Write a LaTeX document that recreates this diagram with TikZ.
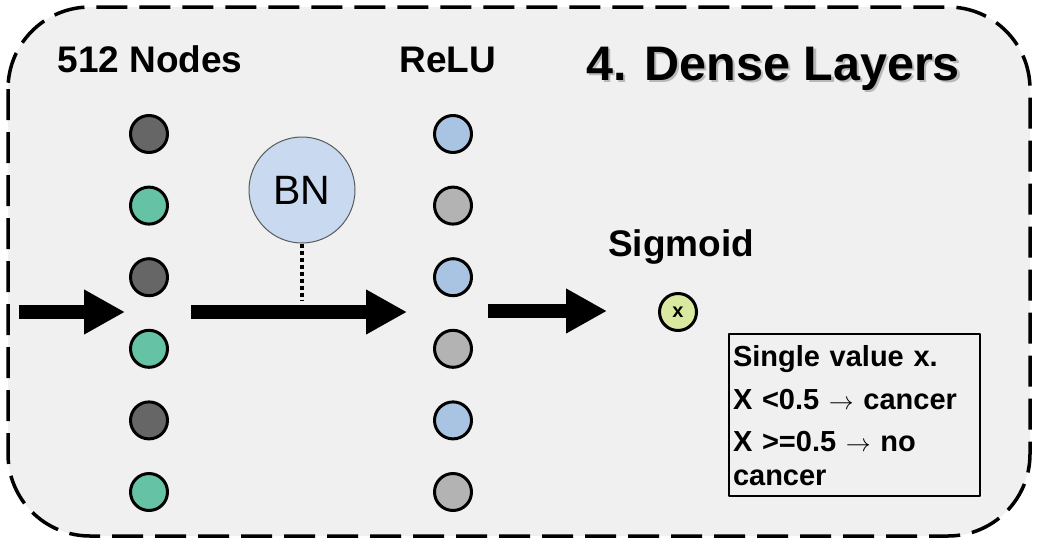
\documentclass[tikz,border=0pt]{standalone}
\usepackage{fontspec}
\setsansfont{Liberation Sans}
\usetikzlibrary{arrows.meta}
\definecolor{bgc}{HTML}{F0F0F0}
\definecolor{dk}{HTML}{666666}
\definecolor{gn}{HTML}{66C2A5}
\definecolor{bl}{HTML}{A9C4E3}
\definecolor{gy}{HTML}{B3B3B3}
\definecolor{bnc}{HTML}{C9DAF0}
\definecolor{yw}{HTML}{D9EAA0}
\begin{document}
\begin{tikzpicture}[x=1pt,y=-1pt,line join=round,font=\sffamily\bfseries,
	unit/.style={circle,draw,line width=3pt,minimum size=37pt,inner sep=0pt},
	bigarrow/.style={line width=14pt,-{Triangle[length=41pt,width=42pt]}},
	lbl/.style={anchor=base,font=\sffamily\bfseries\fontsize{37}{44}\selectfont},
	ttl/.style={anchor=base,font=\sffamily\bfseries\fontsize{48.5}{56}\selectfont}]
	\useasboundingbox (0,0) rectangle (1044,552);
	\draw[fill=bgc,line width=3.5pt,dash pattern=on 31pt off 12pt,rounded corners=82pt] (8,7) rectangle (1030,536);
	% columns of units
	\foreach \c [count=\i] in {dk,gn,dk,gn,dk,gn}
	\node[unit,fill=\c] (L\i) at (149,{134+71.6*(\i-1)}) {};
	\foreach \c [count=\i] in {bl,gy,bl,gy,bl,gy}
	\node[unit,fill=\c] (R\i) at (453,{134+71.6*(\i-1)}) {};
	\node[unit,fill=yw,font=\sffamily\bfseries\fontsize{20}{24}\selectfont] (sig) at (678,312) {x};
	\node[circle,draw=black!65,line width=1pt,fill=bnc,minimum size=106pt,inner sep=0pt,
		font=\sffamily\fontsize{41}{48}\selectfont] (BN) at (302,190) {BN};
	% labels
	\node[lbl] (nodes) at (150,72) {512 Nodes};
	\node[lbl] (relu) at (448,72) {ReLU};
	\node[lbl] (sigt) at (681,256) {Sigmoid};
	\node[ttl,text=black!28] (shadow) at (775.5,82.5) {4. Dense Layers};
	\node[ttl] (title) at (773,80) {4. Dense Layers};
	% arrows
	\path (19,312)coordinate(a0) (125,312)coordinate(a1) (191,312)coordinate(a2)
		(407,312)coordinate(a3) (488,311)coordinate(a4) (607,311)coordinate(a5);
	\foreach \i/\j in {a0/a1,a2/a3,a4/a5}
	\draw[bigarrow] (\i)--(\j);
	\draw[line width=4pt,dash pattern=on 4pt off 3pt] (BN.south)--(BN.south|-0,300);
	% note
	\node[draw,line width=2pt,anchor=north west,text width=243pt,inner xsep=4pt,inner ysep=11pt,align=left,
		font=\sffamily\bfseries\fontsize{29}{34}\selectfont] (note) at (728,333)
		{Single value x.\\[9pt] X <0.5 $\rightarrow$ cancer\\[8pt] X >=0.5 $\rightarrow$ no\\cancer};
\end{tikzpicture}
\end{document}
